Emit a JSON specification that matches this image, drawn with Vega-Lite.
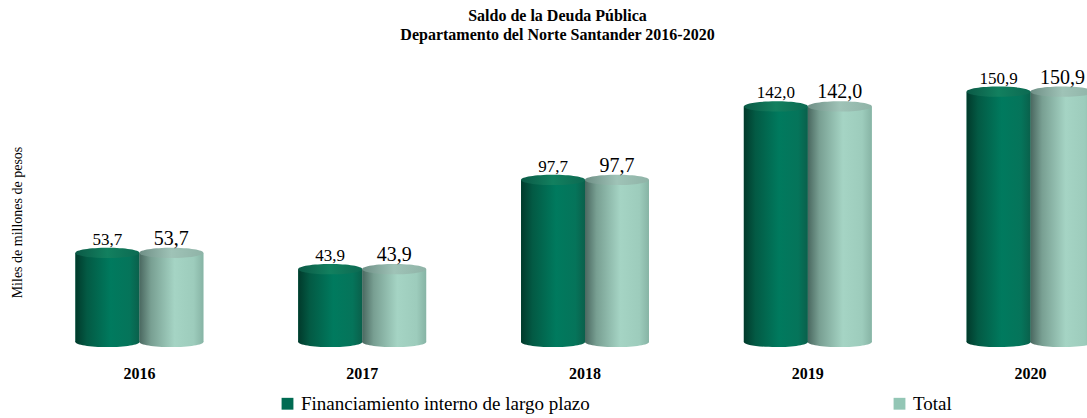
{
  "$schema": "https://vega.github.io/schema/vega-lite/v6.json",
  "autosize": "none",
  "width": 1059,
  "height": 282,
  "padding": {"left": 28, "top": 60, "right": 0, "bottom": 76},
  "background": "white",
  "title": {
    "text": ["Saldo de la Deuda Pública", "Departamento del Norte Santander 2016-2020"],
    "font": "Liberation Serif, Times New Roman, serif",
    "fontSize": 16,
    "fontWeight": "bold",
    "lineHeight": 19,
    "anchor": "middle",
    "offset": 17,
    "color": "#000000"
  },
  "config": {
    "view": {"stroke": null},
    "font": "Liberation Serif, Times New Roman, serif",
    "locale": {"number": {"decimal": ",", "thousands": ".", "grouping": [3], "currency": ["$", ""]}}
  },
  "data": {
    "values": [
      {"anio": "2016", "serie": "Financiamiento interno de largo plazo", "valor": 53.7},
      {"anio": "2016", "serie": "Total", "valor": 53.7},
      {"anio": "2017", "serie": "Financiamiento interno de largo plazo", "valor": 43.9},
      {"anio": "2017", "serie": "Total", "valor": 43.9},
      {"anio": "2018", "serie": "Financiamiento interno de largo plazo", "valor": 97.7},
      {"anio": "2018", "serie": "Total", "valor": 97.7},
      {"anio": "2019", "serie": "Financiamiento interno de largo plazo", "valor": 142.0},
      {"anio": "2019", "serie": "Total", "valor": 142.0},
      {"anio": "2020", "serie": "Financiamiento interno de largo plazo", "valor": 150.9},
      {"anio": "2020", "serie": "Total", "valor": 150.9}
    ]
  },
  "encoding": {
    "x": {
      "field": "anio", "type": "nominal",
      "scale": {"range": [0, 1114], "paddingInner": 0.426, "paddingOuter": 0.213},
      "axis": {
        "title": null, "ticks": false, "domain": false, "labelAngle": 0,
        "labelFont": "Liberation Serif, Times New Roman, serif", "labelFontSize": 16, "labelFontWeight": "bold",
        "labelColor": "#000000", "labelPadding": 23
      }
    },
    "xOffset": {
      "field": "serie", "type": "nominal",
      "scale": {"domain": ["Financiamiento interno de largo plazo", "Total"], "paddingInner": 0, "paddingOuter": 0}
    },
    "y": {
      "field": "valor", "type": "quantitative",
      "scale": {"domain": [0, 170], "nice": false},
      "axis": {
        "title": "Miles de millones de pesos", "labels": false, "ticks": false, "domain": false, "grid": false,
        "titleFont": "Liberation Serif, Times New Roman, serif", "titleFontSize": 14, "titleFontWeight": "normal", "titleColor": "#000000",
        "titleAngle": 270, "titleAlign": "center", "titleBaseline": "middle", "titleX": -11, "titleY": 162
      }
    }
  },
  "layer": [
    {
      "mark": {"type": "bar", "stroke": null},
      "encoding": {
        "color": {
          "field": "serie", "type": "nominal",
          "scale": {"domain": ["Financiamiento interno de largo plazo", "Total"], "range": ["#006B52", "#93C6B5"]},
          "legend": {
            "title": null, "orient": "none", "direction": "horizontal", "columns": 2,
            "legendX": 250, "legendY": 334, "columnPadding": 300,
            "symbolType": "square", "symbolSize": 140, "symbolStrokeWidth": 0, "labelOffset": 4,
            "labelFont": "Liberation Serif, Times New Roman, serif", "labelFontSize": 19, "labelColor": "#000000", "labelLimit": 500
          }
        }
      }
    },
    {
      "transform": [{"filter": "datum.serie === 'Financiamiento interno de largo plazo'"}],
      "mark": {"type": "bar", "color": {"gradient": "linear", "x1": 0, "x2": 1, "y1": 0, "y2": 0,
        "stops": [{"offset": 0, "color": "#013a2b"}, {"offset": 0.18, "color": "#035a44"}, {"offset": 0.55, "color": "#007a5e"}, {"offset": 0.85, "color": "#05745a"}, {"offset": 1, "color": "#0a604b"}]}}
    },
    {
      "transform": [{"filter": "datum.serie === 'Total'"}],
      "mark": {"type": "bar", "color": {"gradient": "linear", "x1": 0, "x2": 1, "y1": 0, "y2": 0,
        "stops": [{"offset": 0, "color": "#4a6860"}, {"offset": 0.18, "color": "#789f92"}, {"offset": 0.55, "color": "#a5d4c4"}, {"offset": 0.85, "color": "#9dccbc"}, {"offset": 1, "color": "#87b4a5"}]}}
    },
    {
      "transform": [{"filter": "datum.serie === 'Financiamiento interno de largo plazo'"}],
      "mark": {"type": "point", "filled": true, "opacity": 1, "size": 4096, "strokeWidth": 0,
        "shape": "M-1,0A1,0.16,0,1,0,1,0A1,0.16,0,1,0,-1,0Z",
        "color": {"gradient": "linear", "x1": 0, "x2": 1, "y1": 0, "y2": 0,
        "stops": [{"offset": 0, "color": "#013a2b"}, {"offset": 0.18, "color": "#035a44"}, {"offset": 0.55, "color": "#007a5e"}, {"offset": 0.85, "color": "#05745a"}, {"offset": 1, "color": "#0a604b"}]}},
      "encoding": {"y": {"datum": 0}}
    },
    {
      "transform": [{"filter": "datum.serie === 'Total'"}],
      "mark": {"type": "point", "filled": true, "opacity": 1, "size": 4096, "strokeWidth": 0,
        "shape": "M-1,0A1,0.16,0,1,0,1,0A1,0.16,0,1,0,-1,0Z",
        "color": {"gradient": "linear", "x1": 0, "x2": 1, "y1": 0, "y2": 0,
        "stops": [{"offset": 0, "color": "#4a6860"}, {"offset": 0.18, "color": "#789f92"}, {"offset": 0.55, "color": "#a5d4c4"}, {"offset": 0.85, "color": "#9dccbc"}, {"offset": 1, "color": "#87b4a5"}]}},
      "encoding": {"y": {"datum": 0}}
    },
    {
      "transform": [{"filter": "datum.serie === 'Financiamiento interno de largo plazo'"}],
      "mark": {"type": "point", "filled": true, "opacity": 1, "size": 4096, "strokeWidth": 0,
        "shape": "M-1,0A1,0.16,0,1,0,1,0A1,0.16,0,1,0,-1,0Z",
        "color": {"gradient": "linear", "x1": 0, "x2": 1, "y1": 0, "y2": 0,
        "stops": [{"offset": 0, "color": "#0b5a46"}, {"offset": 0.5, "color": "#12805f"}, {"offset": 1, "color": "#0c6a52"}]}}
    },
    {
      "transform": [{"filter": "datum.serie === 'Total'"}],
      "mark": {"type": "point", "filled": true, "opacity": 1, "size": 4096, "strokeWidth": 0,
        "shape": "M-1,0A1,0.16,0,1,0,1,0A1,0.16,0,1,0,-1,0Z",
        "color": {"gradient": "linear", "x1": 0, "x2": 1, "y1": 0, "y2": 0,
        "stops": [{"offset": 0, "color": "#6f8f86"}, {"offset": 0.5, "color": "#9fc3b7"}, {"offset": 1, "color": "#8fb3a7"}]}}
    },
    {
      "transform": [{"filter": "datum.serie === 'Financiamiento interno de largo plazo'"}],
      "mark": {"type": "text", "baseline": "alphabetic", "dy": -8, "font": "Liberation Serif, Times New Roman, serif", "fontSize": 17, "color": "#000000"},
      "encoding": {"text": {"field": "valor", "type": "quantitative", "format": ".1f"}}
    },
    {
      "transform": [{"filter": "datum.serie === 'Total'"}],
      "mark": {"type": "text", "baseline": "alphabetic", "dy": -8, "font": "Liberation Serif, Times New Roman, serif", "fontSize": 20, "color": "#000000"},
      "encoding": {"text": {"field": "valor", "type": "quantitative", "format": ".1f"}}
    }
  ]
}
